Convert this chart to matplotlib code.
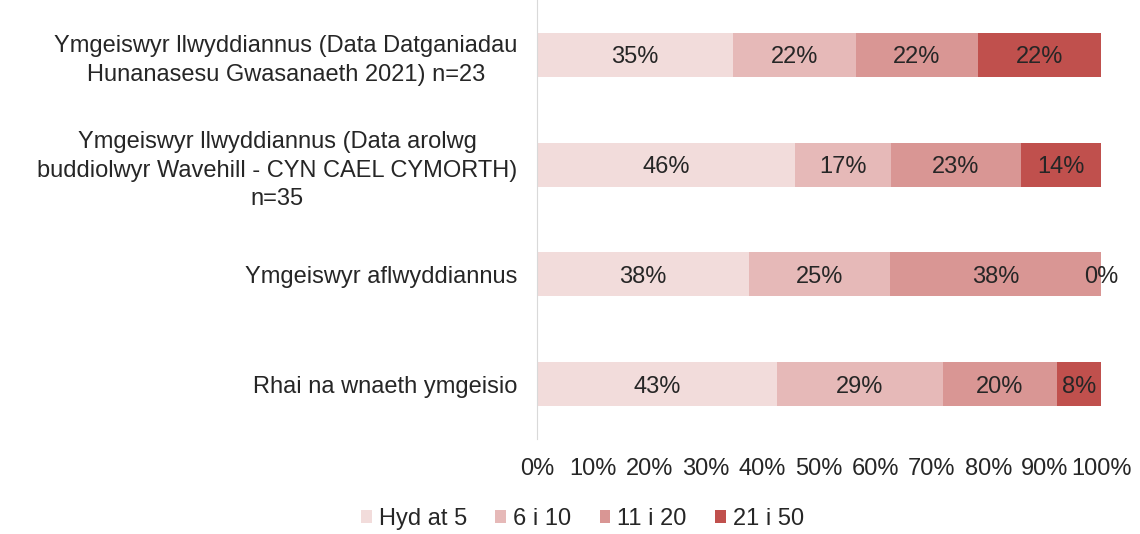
import matplotlib
matplotlib.use("Agg")
import matplotlib.pyplot as plt
from matplotlib.patches import Patch

categories = [
    "Ymgeiswyr llwyddiannus (Data Datganiadau\nHunanasesu Gwasanaeth 2021) n=23",
    "Ymgeiswyr llwyddiannus (Data arolwg\nbuddiolwyr Wavehill - CYN CAEL CYMORTH)\nn=35",
    "Ymgeiswyr aflwyddiannus",
    "Rhai na wnaeth ymgeisio",
]
series_names = ["Hyd at 5", "6 i 10", "11 i 20", "21 i 50"]
values = {
    "Hyd at 5": [34.8, 45.7, 37.5, 42.6],
    "6 i 10":   [21.7, 17.1, 25.0, 29.3],
    "11 i 20":  [21.7, 22.9, 37.5, 20.2],
    "21 i 50":  [21.7, 14.3, 0.0, 7.9],
}
labels = {
    "Hyd at 5": ["35%", "46%", "38%", "43%"],
    "6 i 10":   ["22%", "17%", "25%", "29%"],
    "11 i 20":  ["22%", "23%", "38%", "20%"],
    "21 i 50":  ["22%", "14%", "0%", "8%"],
}
colors = ["#F2DCDB", "#E6B9B8", "#D99694", "#C0504D"]
xticks = [0, 10, 20, 30, 40, 50, 60, 70, 80, 90, 100]

FS = 17
plt.rcParams['font.family'] = ['Liberation Sans', 'DejaVu Sans']
fig = plt.figure(figsize=(11.4, 5.34), dpi=100)
ax = fig.add_axes([0.471, 0.178, 0.495, 0.822])

y = list(range(len(categories)))
left = [0.0] * len(categories)
for name, c in zip(series_names, colors):
    vals = values[name]
    ax.barh(y, vals, left=left, height=0.4, color=c, edgecolor='none')
    for i, (v, l) in enumerate(zip(vals, left)):
        ax.text(l + v / 2, i, labels[name][i], ha='center', va='center_baseline',
                fontsize=FS, color='#262626')
    left = [a + b for a, b in zip(left, vals)]

ax.set_ylim(3.5, -0.5)
ax.set_xlim(0, 100)
ax.set_yticks(y)
ax.set_yticklabels(categories, fontsize=FS, color='#262626',
                   multialignment='center', linespacing=1.4)
ax.set_xticks(xticks)
ax.set_xticklabels([f"{t}%" for t in xticks], fontsize=FS, color='#262626')
ax.tick_params(axis='x', length=0, pad=14)
ax.tick_params(axis='y', length=0, pad=14)
for s in ['top', 'right', 'bottom']:
    ax.spines[s].set_visible(False)
ax.spines['left'].set_color('#D9D9D9')

handles = [Patch(facecolor=c, edgecolor='none', label=n) for n, c in zip(series_names, colors)]
fig.legend(handles=handles, loc='center', bbox_to_anchor=(0.511, 0.028), ncol=4,
           frameon=False, fontsize=FS, handlelength=0.45, handleheight=0.45,
           handletextpad=0.3, columnspacing=1.2, labelcolor='#262626')

fig.savefig("out.png", dpi=100)
